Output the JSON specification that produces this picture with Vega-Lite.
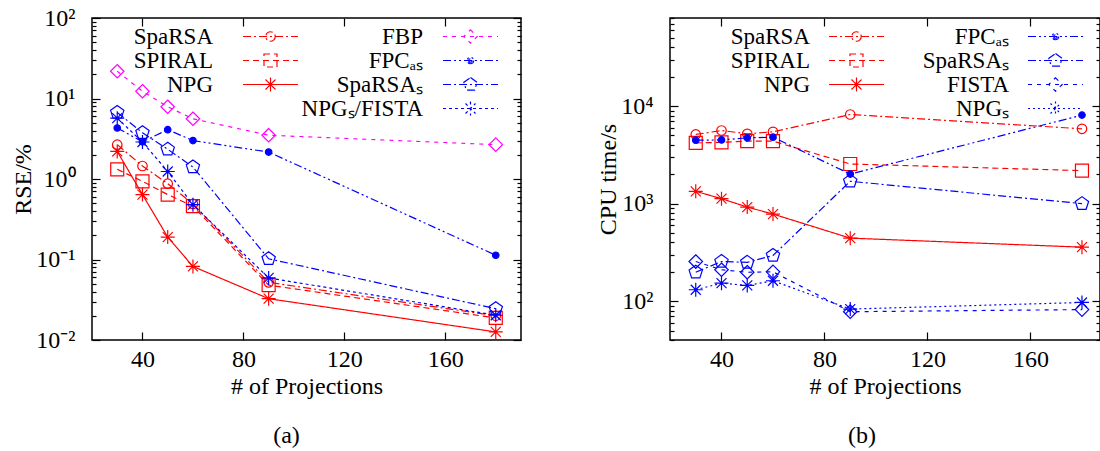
{
  "$schema": "https://vega.github.io/schema/vega-lite/v6.json",
  "padding": {"left": 11, "top": 5, "right": 0, "bottom": 0},
  "spacing": 72,
  "datasets": {
    "d": [
      {"p":"a","g":1,"alg":"SpaRSA","n":30,"v":2.67},{"p":"a","g":1,"alg":"SpaRSA","n":40,"v":1.45},{"p":"a","g":1,"alg":"SpaRSA","n":50,"v":0.875},{"p":"a","g":1,"alg":"SpaRSA","n":60,"v":0.49},{"p":"a","g":1,"alg":"SpaRSA","n":90,"v":0.052},{"p":"a","g":1,"alg":"SpaRSA","n":180,"v":0.020},
      {"p":"a","g":1,"alg":"SPIRAL","n":30,"v":1.32},{"p":"a","g":1,"alg":"SPIRAL","n":40,"v":0.935},{"p":"a","g":1,"alg":"SPIRAL","n":50,"v":0.64},{"p":"a","g":1,"alg":"SPIRAL","n":60,"v":0.46},{"p":"a","g":1,"alg":"SPIRAL","n":90,"v":0.048},{"p":"a","g":1,"alg":"SPIRAL","n":180,"v":0.0188},
      {"p":"a","g":1,"alg":"NPG","n":30,"v":2.2},{"p":"a","g":1,"alg":"NPG","n":40,"v":0.64},{"p":"a","g":1,"alg":"NPG","n":50,"v":0.19},{"p":"a","g":1,"alg":"NPG","n":60,"v":0.082},{"p":"a","g":1,"alg":"NPG","n":90,"v":0.0326},{"p":"a","g":1,"alg":"NPG","n":180,"v":0.0126},
      {"p":"a","g":2,"alg":"FBP","n":30,"v":21.8},{"p":"a","g":2,"alg":"FBP","n":40,"v":12.3},{"p":"a","g":2,"alg":"FBP","n":50,"v":7.9},{"p":"a","g":2,"alg":"FBP","n":60,"v":5.6},{"p":"a","g":2,"alg":"FBP","n":90,"v":3.5},{"p":"a","g":2,"alg":"FBP","n":180,"v":2.67},
      {"p":"a","g":2,"alg":"FPCₐₛ","n":30,"v":4.3},{"p":"a","g":2,"alg":"FPCₐₛ","n":40,"v":2.9},{"p":"a","g":2,"alg":"FPCₐₛ","n":50,"v":4.1},{"p":"a","g":2,"alg":"FPCₐₛ","n":60,"v":3.0},{"p":"a","g":2,"alg":"FPCₐₛ","n":90,"v":2.16},{"p":"a","g":2,"alg":"FPCₐₛ","n":180,"v":0.113},
      {"p":"a","g":2,"alg":"SpaRSAₛ","n":30,"v":6.7},{"p":"a","g":2,"alg":"SpaRSAₛ","n":40,"v":3.76},{"p":"a","g":2,"alg":"SpaRSAₛ","n":50,"v":2.34},{"p":"a","g":2,"alg":"SpaRSAₛ","n":60,"v":1.41},{"p":"a","g":2,"alg":"SpaRSAₛ","n":90,"v":0.102},{"p":"a","g":2,"alg":"SpaRSAₛ","n":180,"v":0.0245},
      {"p":"a","g":2,"alg":"NPGₛ/FISTA","n":30,"v":5.7},{"p":"a","g":2,"alg":"NPGₛ/FISTA","n":40,"v":2.88},{"p":"a","g":2,"alg":"NPGₛ/FISTA","n":50,"v":1.24},{"p":"a","g":2,"alg":"NPGₛ/FISTA","n":60,"v":0.48},{"p":"a","g":2,"alg":"NPGₛ/FISTA","n":90,"v":0.059},{"p":"a","g":2,"alg":"NPGₛ/FISTA","n":180,"v":0.0203},
      {"p":"b","g":1,"alg":"SpaRSA","n":30,"v":5120},{"p":"b","g":1,"alg":"SpaRSA","n":40,"v":5620},{"p":"b","g":1,"alg":"SpaRSA","n":50,"v":5200},{"p":"b","g":1,"alg":"SpaRSA","n":60,"v":5450},{"p":"b","g":1,"alg":"SpaRSA","n":90,"v":8200},{"p":"b","g":1,"alg":"SpaRSA","n":180,"v":5850},
      {"p":"b","g":1,"alg":"SPIRAL","n":30,"v":4200},{"p":"b","g":1,"alg":"SPIRAL","n":40,"v":4250},{"p":"b","g":1,"alg":"SPIRAL","n":50,"v":4370},{"p":"b","g":1,"alg":"SPIRAL","n":60,"v":4370},{"p":"b","g":1,"alg":"SPIRAL","n":90,"v":2550},{"p":"b","g":1,"alg":"SPIRAL","n":180,"v":2180},
      {"p":"b","g":1,"alg":"NPG","n":30,"v":1337},{"p":"b","g":1,"alg":"NPG","n":40,"v":1125},{"p":"b","g":1,"alg":"NPG","n":50,"v":922},{"p":"b","g":1,"alg":"NPG","n":60,"v":782},{"p":"b","g":1,"alg":"NPG","n":90,"v":443},{"p":"b","g":1,"alg":"NPG","n":180,"v":358},
      {"p":"b","g":2,"alg":"FPCₐₛ","n":30,"v":4470},{"p":"b","g":2,"alg":"FPCₐₛ","n":40,"v":4500},{"p":"b","g":2,"alg":"FPCₐₛ","n":50,"v":4720},{"p":"b","g":2,"alg":"FPCₐₛ","n":60,"v":4800},{"p":"b","g":2,"alg":"FPCₐₛ","n":90,"v":2010},{"p":"b","g":2,"alg":"FPCₐₛ","n":180,"v":8080},
      {"p":"b","g":2,"alg":"SpaRSAₛ","n":30,"v":198},{"p":"b","g":2,"alg":"SpaRSAₛ","n":40,"v":255},{"p":"b","g":2,"alg":"SpaRSAₛ","n":50,"v":250},{"p":"b","g":2,"alg":"SpaRSAₛ","n":60,"v":294},{"p":"b","g":2,"alg":"SpaRSAₛ","n":90,"v":1695},{"p":"b","g":2,"alg":"SpaRSAₛ","n":180,"v":1000},
      {"p":"b","g":2,"alg":"FISTA","n":30,"v":255},{"p":"b","g":2,"alg":"FISTA","n":40,"v":210},{"p":"b","g":2,"alg":"FISTA","n":50,"v":198},{"p":"b","g":2,"alg":"FISTA","n":60,"v":200},{"p":"b","g":2,"alg":"FISTA","n":90,"v":78},{"p":"b","g":2,"alg":"FISTA","n":180,"v":82},
      {"p":"b","g":2,"alg":"NPGₛ","n":30,"v":131},{"p":"b","g":2,"alg":"NPGₛ","n":40,"v":153},{"p":"b","g":2,"alg":"NPGₛ","n":50,"v":145},{"p":"b","g":2,"alg":"NPGₛ","n":60,"v":162},{"p":"b","g":2,"alg":"NPGₛ","n":90,"v":83},{"p":"b","g":2,"alg":"NPGₛ","n":180,"v":97}
    ]
  },
  "hconcat": [
    {
      "width": 429, "height": 322,
      "data": {"name": "d"},
      "title": {"text": "(a)", "orient": "bottom", "frame": "group", "dx": -20, "offset": 26},
      "layer": [
        {
          "transform": [{"filter": "datum.p === 'a' && datum.g === 1"}],
          "encoding": {
            "x": {"field": "n", "type": "quantitative", "scale": {"domain": [20, 190], "nice": false, "zero": false},
                  "axis": {"orient": "bottom", "values": [40, 80, 120, 160], "tickSize": -8, "labelPadding": 15, "title": "# of Projections", "titlePadding": 3}},
            "y": {"field": "v", "type": "quantitative", "scale": {"type": "log", "domain": [0.01, 100], "nice": false},
                  "axis": {"orient": "left", "values": [0.01,0.02,0.03,0.04,0.05,0.06,0.07,0.08,0.09,0.1,0.2,0.3,0.4,0.5,0.6,0.7,0.8,0.9,1,2,3,4,5,6,7,8,9,10,20,30,40,50,60,70,80,90,100],
                           "tickSize": {"condition": {"test": "abs(log(datum.value)/LN10 - round(log(datum.value)/LN10)) < 0.001", "value": -8}, "value": -4},
                           "labelExpr": "datum.value == 0.01 ? '10⁻²' : datum.value == 0.1 ? '10⁻¹' : datum.value == 1 ? '10⁰' : datum.value == 10 ? '10¹' : datum.value == 100 ? '10²' : ''",
                           "labelOverlap": false, "labelPadding": 25, "title": "RSE/%", "titlePadding": 0}},
            "color": {"field": "alg", "type": "nominal", "scale": {"domain": ["SpaRSA", "SPIRAL", "NPG"], "range": ["#ff0000", "#ff0000", "#ff0000"]},
                      "legend": {"orient": "none", "legendX": 167, "legendY": 7, "title": null, "labelAlign": "right", "labelOffset": -69}}
          },
          "layer": [
            {"mark": {"type": "line", "strokeWidth": 1.2},
             "encoding": {"strokeDash": {"field": "alg", "type": "nominal", "scale": {"domain": ["SpaRSA", "SPIRAL", "NPG"], "range": [[8,3,2,3],[6,4],[1,0]]}}}},
            {"mark": {"type": "point", "filled": false, "size": 100, "strokeWidth": 1.2, "opacity": 1},
             "encoding": {"shape": {"condition": [
               {"test": "datum.alg === 'SpaRSA'", "value": "M0.95,0A0.95,0.95 0 1,1 -0.95,0A0.95,0.95 0 1,1 0.95,0Z"},
               {"test": "datum.alg === 'SPIRAL'", "value": "M-1.3,-1.3H1.3V1.3H-1.3Z"}],
               "value": "M0,-1.4V1.4M-1.4,0H1.4M-1,-1L1,1M-1,1L1,-1"}}},
            {"transform": [{"filter": "datum.n < 0"}],
             "mark": {"type": "point", "filled": false, "size": 100, "strokeWidth": 1.2, "opacity": 1},
             "encoding": {"shape": {"field": "alg", "type": "nominal", "scale": {"domain": ["SpaRSA", "SPIRAL", "NPG"],
               "range": ["M-5.5,0H5.5M0.95,0A0.95,0.95 0 1,1 -0.95,0A0.95,0.95 0 1,1 0.95,0Z", "M-5.5,0H5.5M-1.3,-1.3H1.3V1.3H-1.3Z", "M-5.5,0H5.5M0,-1.4V1.4M-1,-1L1,1M-1,1L1,-1"]}}}}
          ]
        },
        {
          "transform": [{"filter": "datum.p === 'a' && datum.g === 2"}],
          "encoding": {
            "x": {"field": "n", "type": "quantitative", "scale": {"domain": [20, 190], "nice": false, "zero": false},
                  "axis": {"orient": "top", "values": [40, 80, 120, 160], "tickSize": -8, "labels": false, "title": null}},
            "y": {"field": "v", "type": "quantitative", "scale": {"type": "log", "domain": [0.01, 100], "nice": false},
                  "axis": {"orient": "right", "values": [0.01,0.02,0.03,0.04,0.05,0.06,0.07,0.08,0.09,0.1,0.2,0.3,0.4,0.5,0.6,0.7,0.8,0.9,1,2,3,4,5,6,7,8,9,10,20,30,40,50,60,70,80,90,100],
                           "tickSize": {"condition": {"test": "abs(log(datum.value)/LN10 - round(log(datum.value)/LN10)) < 0.001", "value": -8}, "value": -4},
                           "labels": false, "title": null}},
            "color": {"field": "alg", "type": "nominal", "scale": {"domain": ["FBP", "FPCₐₛ", "SpaRSAₛ", "NPGₛ/FISTA"], "range": ["#ff00ff", "#0000ff", "#0000ff", "#0000ff"]},
                      "legend": {"orient": "none", "legendX": 367, "legendY": 7, "title": null, "labelAlign": "right", "labelOffset": -59}}
          },
          "layer": [
            {"mark": {"type": "line", "strokeWidth": 1.2},
             "encoding": {"strokeDash": {"field": "alg", "type": "nominal", "scale": {"domain": ["FBP", "FPCₐₛ", "SpaRSAₛ", "NPGₛ/FISTA"], "range": [[4,5],[8,3,2,3,2,3],[8,3,2,3],[3,3]]}}}},
            {"mark": {"type": "point", "filled": false, "size": 100, "strokeWidth": 1.2, "opacity": 1},
             "encoding": {
               "shape": {"condition": [
                 {"test": "datum.alg === 'FBP'", "value": "M0,-1.35L1.35,0L0,1.35L-1.35,0Z"},
                 {"test": "datum.alg === 'FPCₐₛ'", "value": "M0.65,0A0.65,0.65 0 1,1 -0.65,0A0.65,0.65 0 1,1 0.65,0Z"},
                 {"test": "datum.alg === 'SpaRSAₛ'", "value": "M0,-1.4L1.331,-0.433L0.823,1.133L-0.823,1.133L-1.331,-0.433Z"}],
                 "value": "M0,-1.4V1.4M-1.4,0H1.4M-1,-1L1,1M-1,1L1,-1"},
               "fill": {"condition": {"test": "datum.alg === 'FPCₐₛ'", "value": "#0000ff"}, "value": "transparent"}}},
            {"transform": [{"filter": "datum.n < 0"}],
             "mark": {"type": "point", "filled": false, "size": 100, "strokeWidth": 1.2, "opacity": 1},
             "encoding": {"shape": {"field": "alg", "type": "nominal", "scale": {"domain": ["FBP", "FPCₐₛ", "SpaRSAₛ", "NPGₛ/FISTA"],
               "range": ["M-5.5,0H5.5M0,-1.35L1.35,0L0,1.35L-1.35,0Z", "M-5.5,0H5.5M0.65,0A0.65,0.65 0 1,1 -0.65,0A0.65,0.65 0 1,1 0.65,0ZM0.35,0A0.35,0.35 0 1,1 -0.35,0A0.35,0.35 0 1,1 0.35,0Z", "M-5.5,0H5.5M0,-1.4L1.331,-0.433L0.823,1.133L-0.823,1.133L-1.331,-0.433Z", "M-5.5,0H5.5M0,-1.4V1.4M-1,-1L1,1M-1,1L1,-1"]}}}}
          ]
        }
      ],
      "resolve": {"scale": {"color": "independent", "shape": "independent", "strokeDash": "independent"}, "axis": {"x": "independent", "y": "independent"}}
    },
    {
      "width": 430, "height": 322,
      "data": {"name": "d"},
      "title": {"text": "(b)", "orient": "bottom", "frame": "group", "dx": -23, "offset": 26},
      "layer": [
        {
          "transform": [{"filter": "datum.p === 'b' && datum.g === 1"}],
          "encoding": {
            "x": {"field": "n", "type": "quantitative", "scale": {"domain": [20, 187], "nice": false, "zero": false},
                  "axis": {"orient": "bottom", "values": [40, 80, 120, 160], "tickSize": -8, "labelPadding": 15, "title": "# of Projections", "titlePadding": 3}},
            "y": {"field": "v", "type": "quantitative", "scale": {"type": "log", "domain": [40, 80000], "nice": false},
                  "axis": {"orient": "left", "values": [40,50,60,70,80,90,100,200,300,400,500,600,700,800,900,1000,2000,3000,4000,5000,6000,7000,8000,9000,10000,20000,30000,40000,50000,60000,70000,80000],
                           "tickSize": {"condition": {"test": "abs(log(datum.value)/LN10 - round(log(datum.value)/LN10)) < 0.001", "value": -8}, "value": -4},
                           "labelExpr": "datum.value == 100 ? '10²' : datum.value == 1000 ? '10³' : datum.value == 10000 ? '10⁴' : ''",
                           "labelOverlap": false, "labelPadding": 25, "title": "CPU time/s", "titlePadding": 0}},
            "color": {"field": "alg", "type": "nominal", "scale": {"domain": ["SpaRSA", "SPIRAL", "NPG"], "range": ["#ff0000", "#ff0000", "#ff0000"]},
                      "legend": {"orient": "none", "legendX": 175, "legendY": 7, "title": null, "labelAlign": "right", "labelOffset": -58}}
          },
          "layer": [
            {"mark": {"type": "line", "strokeWidth": 1.2},
             "encoding": {"strokeDash": {"field": "alg", "type": "nominal", "scale": {"domain": ["SpaRSA", "SPIRAL", "NPG"], "range": [[8,3,2,3],[6,4],[1,0]]}}}},
            {"mark": {"type": "point", "filled": false, "size": 100, "strokeWidth": 1.2, "opacity": 1},
             "encoding": {"shape": {"condition": [
               {"test": "datum.alg === 'SpaRSA'", "value": "M0.95,0A0.95,0.95 0 1,1 -0.95,0A0.95,0.95 0 1,1 0.95,0Z"},
               {"test": "datum.alg === 'SPIRAL'", "value": "M-1.3,-1.3H1.3V1.3H-1.3Z"}],
               "value": "M0,-1.4V1.4M-1.4,0H1.4M-1,-1L1,1M-1,1L1,-1"}}},
            {"transform": [{"filter": "datum.n < 0"}],
             "mark": {"type": "point", "filled": false, "size": 100, "strokeWidth": 1.2, "opacity": 1},
             "encoding": {"shape": {"field": "alg", "type": "nominal", "scale": {"domain": ["SpaRSA", "SPIRAL", "NPG"],
               "range": ["M-5.5,0H5.5M0.95,0A0.95,0.95 0 1,1 -0.95,0A0.95,0.95 0 1,1 0.95,0Z", "M-5.5,0H5.5M-1.3,-1.3H1.3V1.3H-1.3Z", "M-5.5,0H5.5M0,-1.4V1.4M-1,-1L1,1M-1,1L1,-1"]}}}}
          ]
        },
        {
          "transform": [{"filter": "datum.p === 'b' && datum.g === 2"}],
          "encoding": {
            "x": {"field": "n", "type": "quantitative", "scale": {"domain": [20, 187], "nice": false, "zero": false},
                  "axis": {"orient": "top", "values": [40, 80, 120, 160], "tickSize": -8, "labels": false, "title": null}},
            "y": {"field": "v", "type": "quantitative", "scale": {"type": "log", "domain": [40, 80000], "nice": false},
                  "axis": {"orient": "right", "values": [40,50,60,70,80,90,100,200,300,400,500,600,700,800,900,1000,2000,3000,4000,5000,6000,7000,8000,9000,10000,20000,30000,40000,50000,60000,70000,80000],
                           "tickSize": {"condition": {"test": "abs(log(datum.value)/LN10 - round(log(datum.value)/LN10)) < 0.001", "value": -8}, "value": -4},
                           "labels": false, "title": null}},
            "color": {"field": "alg", "type": "nominal", "scale": {"domain": ["FPCₐₛ", "SpaRSAₛ", "FISTA", "NPGₛ"], "range": ["#0000ff", "#0000ff", "#0000ff", "#0000ff"]},
                      "legend": {"orient": "none", "legendX": 374, "legendY": 7, "title": null, "labelAlign": "right", "labelOffset": -58}}
          },
          "layer": [
            {"mark": {"type": "line", "strokeWidth": 1.2},
             "encoding": {"strokeDash": {"field": "alg", "type": "nominal", "scale": {"domain": ["FPCₐₛ", "SpaRSAₛ", "FISTA", "NPGₛ"], "range": [[8,3,2,3,2,3],[8,3,2,3],[4,5],[2,3]]}}}},
            {"mark": {"type": "point", "filled": false, "size": 100, "strokeWidth": 1.2, "opacity": 1},
             "encoding": {
               "shape": {"condition": [
                 {"test": "datum.alg === 'FISTA'", "value": "M0,-1.35L1.35,0L0,1.35L-1.35,0Z"},
                 {"test": "datum.alg === 'FPCₐₛ'", "value": "M0.65,0A0.65,0.65 0 1,1 -0.65,0A0.65,0.65 0 1,1 0.65,0Z"},
                 {"test": "datum.alg === 'SpaRSAₛ'", "value": "M0,-1.4L1.331,-0.433L0.823,1.133L-0.823,1.133L-1.331,-0.433Z"}],
                 "value": "M0,-1.4V1.4M-1.4,0H1.4M-1,-1L1,1M-1,1L1,-1"},
               "fill": {"condition": {"test": "datum.alg === 'FPCₐₛ'", "value": "#0000ff"}, "value": "transparent"}}},
            {"transform": [{"filter": "datum.n < 0"}],
             "mark": {"type": "point", "filled": false, "size": 100, "strokeWidth": 1.2, "opacity": 1},
             "encoding": {"shape": {"field": "alg", "type": "nominal", "scale": {"domain": ["FPCₐₛ", "SpaRSAₛ", "FISTA", "NPGₛ"],
               "range": ["M-5.5,0H5.5M0.65,0A0.65,0.65 0 1,1 -0.65,0A0.65,0.65 0 1,1 0.65,0ZM0.35,0A0.35,0.35 0 1,1 -0.35,0A0.35,0.35 0 1,1 0.35,0Z", "M-5.5,0H5.5M0,-1.4L1.331,-0.433L0.823,1.133L-0.823,1.133L-1.331,-0.433Z", "M-5.5,0H5.5M0,-1.35L1.35,0L0,1.35L-1.35,0Z", "M-5.5,0H5.5M0,-1.4V1.4M-1,-1L1,1M-1,1L1,-1"]}}}}
          ]
        }
      ],
      "resolve": {"scale": {"color": "independent", "shape": "independent", "strokeDash": "independent"}, "axis": {"x": "independent", "y": "independent"}}
    }
  ],
  "config": {
    "font": "Liberation Serif",
    "view": {"stroke": "black", "strokeWidth": 1.5},
    "axis": {"labelFont": "Liberation Serif", "labelFontSize": 24, "labelColor": "black", "titleFont": "Liberation Serif", "titleFontSize": 24, "titleFontWeight": "normal", "titleColor": "black", "domain": false, "grid": false, "tickColor": "black", "tickWidth": 1.2, "labelFlush": false},
    "legend": {"labelFont": "Liberation Serif", "labelFontSize": 23, "labelColor": "black", "labelLimit": 0, "symbolSize": 100, "symbolStrokeWidth": 1.2, "rowPadding": 0, "padding": 0},
    "title": {"font": "Liberation Serif", "fontSize": 24, "fontWeight": "normal", "color": "black"}
  }
}
